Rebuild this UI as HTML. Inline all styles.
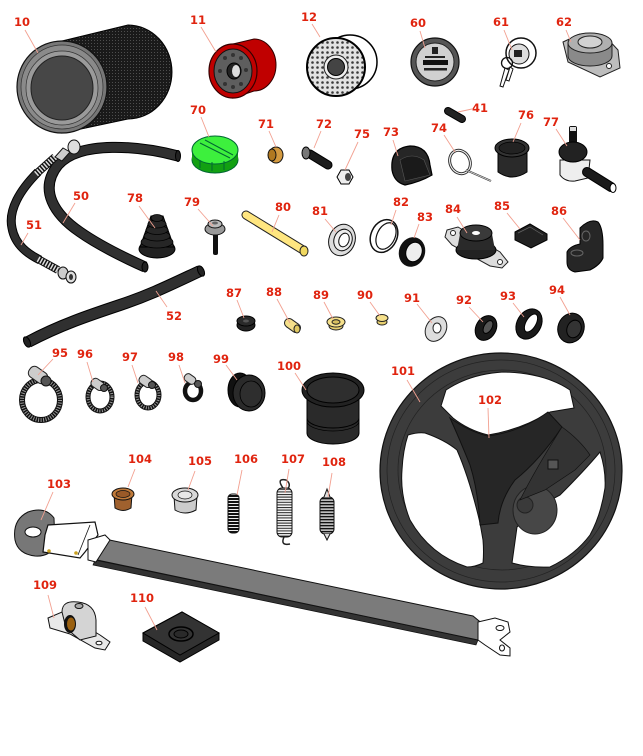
<!DOCTYPE html>
<html><head><meta charset="utf-8"><style>
html,body{margin:0;padding:0;background:#fff;}
svg{display:block}
.l{font-family:"DejaVu Sans","Liberation Sans",sans-serif;font-weight:bold;font-size:11.5px;fill:#e0240f;text-anchor:middle}
.ld{stroke:#f2a090;stroke-width:0.9;fill:none}
</style></head><body>
<svg width="643" height="756" viewBox="0 0 643 756" xmlns="http://www.w3.org/2000/svg">
<defs>
<pattern id="mesh" width="3" height="3" patternUnits="userSpaceOnUse"><rect width="3" height="3" fill="#1a1a1a"/><rect x="1" y="1" width="1" height="1" fill="#4e4e4e"/></pattern>
<pattern id="dots" width="5" height="5" patternUnits="userSpaceOnUse"><rect width="5" height="5" fill="#e2e2e2"/><circle cx="2.5" cy="2.5" r="1.3" fill="#3a3a3a"/></pattern>
<pattern id="sprB" width="4" height="3" patternUnits="userSpaceOnUse"><rect width="4" height="3" fill="#eee"/><rect y="0" width="4" height="2" fill="#111"/></pattern>
<pattern id="sprW" width="4" height="2.6" patternUnits="userSpaceOnUse"><rect width="4" height="2.6" fill="#f4f4f4"/><rect y="0" width="4" height="1" fill="#222"/></pattern>
<pattern id="sprG" width="4" height="3" patternUnits="userSpaceOnUse"><rect width="4" height="3" fill="#bbb"/><rect y="0" width="4" height="1.3" fill="#111"/></pattern>
</defs>

<!-- 10 air filter -->
<path d="M62,41 L128,25 A44,47 0 0 1 128,119 L62,133 Z" fill="url(#mesh)" stroke="#000" stroke-width="1"/>
<ellipse cx="62" cy="87" rx="45" ry="46" fill="#777" stroke="#111" stroke-width="1.2"/>
<ellipse cx="62" cy="87" rx="41" ry="42" fill="#8a8a8a" stroke="#333" stroke-width="0.7"/>
<ellipse cx="62" cy="88" rx="36" ry="37" fill="#9a9a9a" stroke="#333" stroke-width="0.7"/>
<ellipse cx="62" cy="88" rx="31" ry="32" fill="#474747" stroke="#222" stroke-width="1"/>

<!-- 11 oil filter -->
<path d="M233,44 L254,39 A22,26 0 0 1 254,91 L233,98 Z" fill="#c00000" stroke="#300" stroke-width="1"/>
<ellipse cx="233" cy="71" rx="24" ry="27" fill="#c00000" stroke="#300" stroke-width="1.2"/>
<ellipse cx="233" cy="71" rx="19" ry="22" fill="#5e5e5e" stroke="#111"/>
<g fill="#333"><circle cx="225" cy="58" r="2"/><circle cx="241" cy="58" r="2"/><circle cx="246" cy="70" r="2"/><circle cx="241" cy="84" r="2"/><circle cx="225" cy="84" r="2"/><circle cx="220" cy="71" r="2"/><circle cx="233" cy="55" r="2"/><circle cx="233" cy="87" r="2"/></g>
<ellipse cx="234" cy="71" rx="7" ry="8" fill="#222" stroke="#000"/>
<ellipse cx="236" cy="71" rx="4" ry="6" fill="#ddd"/>

<!-- 12 fuel filter -->
<circle cx="350" cy="62" r="27" fill="#fff" stroke="#000" stroke-width="1.5"/>
<circle cx="336" cy="67" r="29" fill="url(#dots)" stroke="#000" stroke-width="2"/>
<circle cx="336" cy="67" r="12" fill="#eee" stroke="#222"/>
<circle cx="336" cy="67" r="8.5" fill="#444" stroke="#000"/>

<!-- 60 gauge -->
<circle cx="435" cy="62" r="24" fill="#555" stroke="#111" stroke-width="1.2"/>
<circle cx="435" cy="62" r="19" fill="#d0d0d0" stroke="#222"/>
<rect x="432" y="47" width="6" height="7" fill="#222"/>
<rect x="425" y="56" width="20" height="2" fill="#222"/>
<rect x="423" y="60" width="25" height="5" fill="#111"/>
<rect x="424" y="68" width="23" height="2.5" fill="#222"/>

<!-- 61 key switch -->
<circle cx="521" cy="53" r="15" fill="#fff" stroke="#111" stroke-width="1.5"/>
<circle cx="519" cy="54" r="10" fill="#ddd" stroke="#111"/>
<rect x="514" y="50" width="8" height="7" fill="#222"/>
<circle cx="507" cy="63" r="5.5" fill="none" stroke="#111" stroke-width="1.3"/>
<path d="M505,68 L500,86 L503,87 L509,70 Z M510,67 L506,80 L509,81 L513,69 Z" fill="#fff" stroke="#111"/>

<!-- 62 flange -->
<path d="M563,42 L580,34 L605,36 L618,50 L620,68 L600,77 L568,62 Z" fill="#bdbdbd" stroke="#222"/>
<path d="M568,43 L568,56 A22,10 0 0 0 612,56 L612,43 Z" fill="#8a8a8a" stroke="#222"/>
<ellipse cx="590" cy="43" rx="22" ry="10" fill="#b0b0b0" stroke="#222"/>
<ellipse cx="590" cy="42" rx="12" ry="6" fill="#d2d2d2" stroke="#222"/>
<circle cx="609" cy="66" r="2.5" fill="#fff" stroke="#222"/>

<!-- 41 -->
<line x1="448" y1="111" x2="462" y2="119" stroke="#000" stroke-width="8" stroke-linecap="round"/>
<line x1="448" y1="111" x2="462" y2="119" stroke="#222" stroke-width="6" stroke-linecap="round"/>

<!-- 70 green cap -->
<ellipse cx="215" cy="160" rx="23" ry="13" fill="#12a012" stroke="#063" stroke-width="1"/>
<rect x="192" y="150" width="46" height="10" fill="#12a012"/>
<ellipse cx="215" cy="150" rx="23" ry="14" fill="#3df03d" stroke="#063" stroke-width="1"/>
<path d="M200,143 L230,158 M205,140 L233,155" stroke="#063" stroke-width="1"/>
<g stroke="#063" stroke-width="1"><line x1="200" y1="160" x2="200" y2="168"/><line x1="212" y1="162" x2="212" y2="171"/><line x1="224" y1="161" x2="224" y2="170"/></g>

<!-- 71 -->
<ellipse cx="276" cy="155" rx="7" ry="8" fill="#d49a40" stroke="#111"/>
<ellipse cx="272" cy="155" rx="4" ry="6" fill="#b07820" stroke="#111"/>

<!-- 72 bolt -->
<line x1="310" y1="154" x2="328" y2="165" stroke="#000" stroke-width="9" stroke-linecap="round"/>
<line x1="310" y1="154" x2="328" y2="165" stroke="#1c1c1c" stroke-width="7" stroke-linecap="round"/>
<ellipse cx="306" cy="153" rx="4" ry="6" fill="#777" stroke="#000"/>

<!-- 75 nut -->
<polygon points="353,177 349,170 341,170 337,177 341,184 349,184" fill="#eee" stroke="#000"/>
<ellipse cx="348" cy="177" rx="3" ry="4" fill="#444"/>

<!-- 73 boot -->
<path d="M392,170 Q390,148 410,146 Q428,146 430,165 L432,175 Q420,182 405,185 Q394,182 392,170 Z" fill="#262626" stroke="#000" stroke-width="1.2"/>
<path d="M400,160 Q412,152 424,160 L430,175 L405,181 Z" fill="#1a1a1a" stroke="#555" stroke-width="0.6"/>

<!-- 74 ring pin -->
<ellipse cx="460" cy="162" rx="10" ry="12" transform="rotate(-25 460 162)" fill="none" stroke="#333" stroke-width="3"/>
<ellipse cx="460" cy="162" rx="10" ry="12" transform="rotate(-25 460 162)" fill="none" stroke="#fff" stroke-width="1"/>
<line x1="466" y1="170" x2="491" y2="181" stroke="#333" stroke-width="2"/>
<line x1="466" y1="170" x2="491" y2="181" stroke="#ddd" stroke-width="0.7"/>

<!-- 76 cup -->
<path d="M498,148 L498,172 Q512,182 527,172 L527,148 Z" fill="#2a2a2a" stroke="#000"/>
<ellipse cx="512" cy="148" rx="17" ry="9" fill="#333" stroke="#000"/>
<ellipse cx="512" cy="148" rx="13" ry="6" fill="#222" stroke="#000" stroke-width="0.7"/>

<!-- 77 tie rod end -->
<rect x="569" y="126" width="8" height="18" rx="2" fill="#111"/>
<rect x="570" y="127" width="6" height="4" fill="#ddd"/>
<path d="M560,160 L560,175 Q565,182 575,181 L588,178 L590,160 Z" fill="#eee" stroke="#111"/>
<ellipse cx="573" cy="152" rx="14" ry="10" fill="#222" stroke="#000"/>
<line x1="587" y1="172" x2="611" y2="187" stroke="#000" stroke-width="10" stroke-linecap="round"/>
<line x1="587" y1="172" x2="611" y2="187" stroke="#1a1a1a" stroke-width="8" stroke-linecap="round"/>
<ellipse cx="613" cy="188" rx="3" ry="4.5" fill="#fff" stroke="#000"/>

<!-- 50 hose -->
<path d="M178,156 C140,146 80,140 58,165 C38,190 55,215 80,232 C100,246 125,258 145,267" fill="none" stroke="#000" stroke-width="11"/>
<path d="M178,156 C140,146 80,140 58,165 C38,190 55,215 80,232 C100,246 125,258 145,267" fill="none" stroke="#303030" stroke-width="9"/>
<ellipse cx="178" cy="156" rx="2.5" ry="5.5" fill="#222" stroke="#000"/>
<ellipse cx="145" cy="267" rx="3" ry="5" fill="#222" stroke="#000"/>

<!-- 51 hose -->
<path d="M38,172 C20,190 8,210 12,228 C15,245 28,254 40,260" fill="none" stroke="#000" stroke-width="9"/>
<path d="M38,172 C20,190 8,210 12,228 C15,245 28,254 40,260" fill="none" stroke="#2e2e2e" stroke-width="7"/>
<line x1="36" y1="174" x2="55" y2="157" stroke="#111" stroke-width="8"/>
<line x1="36" y1="174" x2="55" y2="157" stroke="#ddd" stroke-width="6" stroke-dasharray="1.5 1.5"/>
<path d="M55,157 L63,148 L70,152 L62,161 Z" fill="#ccc" stroke="#111"/>
<ellipse cx="74" cy="147" rx="6" ry="7" fill="#ddd" stroke="#111"/>
<line x1="38" y1="259" x2="58" y2="270" stroke="#111" stroke-width="8"/>
<line x1="38" y1="259" x2="58" y2="270" stroke="#ddd" stroke-width="6" stroke-dasharray="1.5 1.5"/>
<ellipse cx="63" cy="273" rx="5" ry="6" fill="#ccc" stroke="#111"/>
<ellipse cx="71" cy="277" rx="5" ry="6" fill="#ddd" stroke="#111"/>
<ellipse cx="71" cy="277" rx="2" ry="3" fill="#333"/>

<!-- 52 hose -->
<path d="M200,271 C170,285 150,295 120,305 C90,315 60,325 28,342" fill="none" stroke="#000" stroke-width="12"/>
<path d="M200,271 C170,285 150,295 120,305 C90,315 60,325 28,342" fill="none" stroke="#303030" stroke-width="10"/>
<ellipse cx="201" cy="271" rx="3" ry="5.5" transform="rotate(-25 201 271)" fill="#222" stroke="#000"/>
<ellipse cx="27" cy="342" rx="3" ry="5.5" transform="rotate(-25 27 342)" fill="#222" stroke="#000"/>

<!-- 78 bellows -->
<ellipse cx="157" cy="249" rx="18" ry="9" fill="#222" stroke="#000"/>
<path d="M151,216 L163,216 L174,247 L140,247 Z" fill="#222" stroke="#000"/>
<g fill="#262626" stroke="#000" stroke-width="0.8">
<ellipse cx="157" cy="242" rx="16" ry="6"/><ellipse cx="157" cy="236" rx="13" ry="5"/><ellipse cx="157" cy="230" rx="11" ry="4.5"/><ellipse cx="157" cy="224" rx="9" ry="4"/><ellipse cx="157" cy="218" rx="6" ry="3.5"/></g>

<!-- 79 bolt -->
<rect x="213" y="232" width="5" height="23" rx="2" fill="#111"/>
<ellipse cx="215" cy="229" rx="10" ry="6" fill="#999" stroke="#111"/>
<ellipse cx="215" cy="224" rx="7" ry="4" fill="#bbb" stroke="#111"/>
<ellipse cx="215" cy="223" rx="3" ry="1.5" fill="#666"/>

<!-- 80 rod -->
<line x1="246" y1="215" x2="303" y2="250" stroke="#222" stroke-width="9" stroke-linecap="round"/>
<line x1="246" y1="215" x2="303" y2="250" stroke="#ffe680" stroke-width="7" stroke-linecap="round"/>
<ellipse cx="304" cy="251" rx="4" ry="5" fill="#f0d860" stroke="#222"/>

<!-- 81 bearing -->
<ellipse cx="342" cy="240" rx="13" ry="16" transform="rotate(20 342 240)" fill="#ddd" stroke="#111"/>
<ellipse cx="343" cy="240" rx="9" ry="11" transform="rotate(20 343 240)" fill="#eee" stroke="#111"/>
<ellipse cx="344" cy="240" rx="5" ry="7" transform="rotate(20 344 240)" fill="#fff" stroke="#111"/>

<!-- 82 ring -->
<ellipse cx="384" cy="236" rx="13" ry="17" transform="rotate(25 384 236)" fill="#fff" stroke="#111" stroke-width="1.5"/>
<ellipse cx="386" cy="236" rx="9" ry="14" transform="rotate(25 386 236)" fill="#fff" stroke="#111" stroke-width="1.2"/>

<!-- 83 taper bearing -->
<ellipse cx="412" cy="252" rx="13" ry="15" transform="rotate(20 412 252)" fill="#111"/>
<ellipse cx="414" cy="252" rx="8" ry="10" transform="rotate(20 414 252)" fill="#eee" stroke="#000"/>

<!-- 84 mount -->
<path d="M447,230 L458,227 L500,252 L508,262 L502,268 L490,266 L452,245 L445,237 Z" fill="#ddd" stroke="#222"/>
<circle cx="453" cy="233" r="2.5" fill="#fff" stroke="#222"/>
<circle cx="500" cy="262" r="2.5" fill="#fff" stroke="#222"/>
<ellipse cx="476" cy="250" rx="20" ry="9" fill="#222" stroke="#000"/>
<path d="M460,234 L457,250 L495,250 L492,234 Z" fill="#2a2a2a"/>
<ellipse cx="476" cy="233" rx="16" ry="8" fill="#3a3a3a" stroke="#000"/>
<ellipse cx="476" cy="233" rx="4" ry="2" fill="#fff"/>

<!-- 85 block -->
<path d="M515,232 L530,224 L547,234 L547,240 L531,248 L515,240 Z" fill="#222" stroke="#000"/>
<path d="M518,233 L530,227 L543,235" stroke="#666" stroke-width="0.7" fill="none"/>

<!-- 86 bracket -->
<path d="M580,228 Q590,218 598,222 Q603,228 603,245 L603,258 Q600,265 590,270 L575,272 Q567,270 567,262 L567,252 Q570,246 580,244 Z" fill="#262626" stroke="#000"/>
<ellipse cx="586" cy="236" rx="4" ry="5" fill="none" stroke="#666"/>
<ellipse cx="577" cy="253" rx="6" ry="3" fill="none" stroke="#666"/>

<!-- 87 -->
<ellipse cx="246" cy="325" rx="9" ry="6" fill="#222" stroke="#000"/>
<ellipse cx="246" cy="321" rx="9" ry="5" fill="#2a2a2a" stroke="#000"/>
<ellipse cx="246" cy="321" rx="3" ry="1.5" fill="#555"/>

<!-- 88 -->
<line x1="289" y1="323" x2="296" y2="328" stroke="#222" stroke-width="10" stroke-linecap="round"/>
<line x1="289" y1="323" x2="296" y2="328" stroke="#f5e08a" stroke-width="8" stroke-linecap="round"/>
<ellipse cx="297" cy="329" rx="3" ry="4" fill="#e0c860" stroke="#222"/>

<!-- 89 -->
<ellipse cx="336" cy="326" rx="7" ry="4" fill="#e8d070" stroke="#222"/>
<ellipse cx="336" cy="322" rx="9" ry="5" fill="#f5e08a" stroke="#222"/>
<ellipse cx="336" cy="322" rx="4" ry="2.2" fill="#d8c060" stroke="#222"/>

<!-- 90 -->
<ellipse cx="382" cy="322" rx="5" ry="3" fill="#e8d070" stroke="#222"/>
<ellipse cx="382" cy="318" rx="6" ry="3.5" fill="#f5e08a" stroke="#222"/>

<!-- 91 washer -->
<ellipse cx="436" cy="329" rx="10" ry="13" transform="rotate(30 436 329)" fill="#ddd" stroke="#222"/>
<ellipse cx="437" cy="328" rx="4" ry="5" fill="#fff" stroke="#222"/>

<!-- 92-94 seals -->
<ellipse cx="486" cy="328" rx="10" ry="13" transform="rotate(30 486 328)" fill="#1a1a1a" stroke="#000"/>
<ellipse cx="488" cy="327" rx="4" ry="7" transform="rotate(30 488 327)" fill="#555" stroke="#000"/>
<ellipse cx="529" cy="324" rx="12" ry="16" transform="rotate(30 529 324)" fill="#1a1a1a" stroke="#000"/>
<ellipse cx="531" cy="323" rx="5" ry="10" transform="rotate(30 531 323)" fill="#fff" stroke="#000"/>
<ellipse cx="571" cy="328" rx="13" ry="15" transform="rotate(20 571 328)" fill="#222" stroke="#000"/>
<ellipse cx="574" cy="329" rx="7" ry="9" transform="rotate(20 574 329)" fill="#333" stroke="#000"/>

<!-- clamps -->
<g fill="none">
<ellipse cx="41" cy="400" rx="19" ry="20" stroke="#111" stroke-width="6"/>
<ellipse cx="41" cy="400" rx="19" ry="20" stroke="#999" stroke-width="4" stroke-dasharray="1 1.5"/>
<ellipse cx="100" cy="397" rx="12" ry="14" stroke="#111" stroke-width="5"/>
<ellipse cx="100" cy="397" rx="12" ry="14" stroke="#999" stroke-width="3" stroke-dasharray="1 1.5"/>
<ellipse cx="148" cy="395" rx="11" ry="13" stroke="#111" stroke-width="5"/>
<ellipse cx="148" cy="395" rx="11" ry="13" stroke="#999" stroke-width="3" stroke-dasharray="1 1.5"/>
<ellipse cx="193" cy="391" rx="8" ry="9" stroke="#111" stroke-width="4.5"/>
</g>
<rect x="28" y="369" width="20" height="12" rx="5" transform="rotate(35 38 375)" fill="#ccc" stroke="#222"/>
<circle cx="46" cy="381" r="5" fill="#555" stroke="#111"/>
<rect x="91" y="380" width="14" height="9" rx="4" transform="rotate(35 98 384)" fill="#ccc" stroke="#222"/>
<circle cx="104" cy="388" r="3.5" fill="#555" stroke="#111"/>
<rect x="139" y="377" width="14" height="9" rx="4" transform="rotate(35 146 381)" fill="#ccc" stroke="#222"/>
<circle cx="152" cy="385" r="3.5" fill="#555" stroke="#111"/>
<rect x="184" y="375" width="12" height="8" rx="3.5" transform="rotate(35 190 379)" fill="#ccc" stroke="#222"/>
<circle cx="198" cy="384" r="3.5" fill="#555" stroke="#111"/>

<!-- 99 cap -->
<ellipse cx="240" cy="390" rx="12" ry="17" fill="#111" stroke="#000"/>
<ellipse cx="249" cy="393" rx="16" ry="18" fill="#2a2a2a" stroke="#000"/>
<ellipse cx="251" cy="394" rx="11" ry="13" fill="#2e2e2e" stroke="#000" stroke-width="0.8"/>

<!-- 100 cup -->
<path d="M307,390 L307,433 A26,11 0 0 0 359,433 L359,390 Z" fill="#2a2a2a" stroke="#000"/>
<path d="M307,418 A26,10 0 0 0 359,418" fill="none" stroke="#000"/>
<path d="M307,421 A26,10 0 0 0 359,421" fill="none" stroke="#000" stroke-width="0.7"/>
<ellipse cx="333" cy="390" rx="31" ry="17" fill="#222" stroke="#000"/>
<ellipse cx="333" cy="390" rx="26" ry="13" fill="#2e2e2e" stroke="#000"/>

<!-- 101 steering wheel -->
<ellipse cx="501" cy="471" rx="121" ry="118" fill="#3c3c3c" stroke="#111" stroke-width="1.2"/>
<ellipse cx="501" cy="471" rx="114" ry="111" fill="none" stroke="#222" stroke-width="0.7"/>
<ellipse cx="502" cy="470" rx="104" ry="100" fill="none" stroke="#222" stroke-width="0.7"/>
<path d="M441,406 L446,390 Q470,374 503,372 Q545,373 570,390 L574,408 L550,412 Q520,430 488,435 Q468,430 453,418 Z" fill="#fff" stroke="#111"/>
<path d="M408,435 Q418,432 425,433 Q445,440 457,450 Q470,480 480,523 L483,540 Q484,552 483,563 Q475,567 467,567 Q430,555 410,520 Q400,495 402,470 Q403,450 408,435 Z" fill="#fff" stroke="#111"/>
<path d="M512,563 L517,527 Q540,505 560,495 Q585,470 600,452 Q606,470 605,488 Q601,515 590,535 Q575,555 550,567 Q530,568 512,563 Z" fill="#fff" stroke="#111"/>
<ellipse cx="535" cy="510" rx="22" ry="24" fill="#474747" stroke="#222"/>
<circle cx="525" cy="505" r="8" fill="#3a3a3a" stroke="#222"/>
<path d="M450,418 Q470,432 488,436 Q520,432 548,412 L562,427 Q540,460 515,480 Q500,500 498,523 L480,525 Q478,490 470,465 Q460,440 450,418 Z" fill="#262626" stroke="#111"/>
<path d="M562,427 Q580,440 590,455 L575,470 Q560,480 545,490 L520,500 Q535,470 562,427 Z" fill="#333" stroke="#111" stroke-width="0.7"/>
<rect x="548" y="460" width="10" height="9" fill="#555" stroke="#111"/>

<!-- 103 strap -->
<polygon points="95,560 478,640 476,645 93,565" fill="#333" stroke="#111" stroke-width="0.7"/>
<polygon points="100,538 473,616 484,625 478,640 97,560" fill="#7b7b7b" stroke="#111"/>
<path d="M478,622 L495,618 L508,622 L510,632 L500,640 L510,648 L510,656 L500,655 L485,645 L478,640 Z" fill="#fff" stroke="#111"/>
<ellipse cx="500" cy="628" rx="4" ry="2.5" fill="#fff" stroke="#111"/>
<ellipse cx="502" cy="648" rx="2.5" ry="3" fill="#fff" stroke="#111"/>
<path d="M15,540 Q12,520 28,512 Q45,506 54,518 L55,545 Q50,557 35,556 Q18,554 15,540 Z" fill="#777" stroke="#111"/>
<ellipse cx="33" cy="532" rx="8" ry="5" fill="#fff" stroke="#111"/>
<path d="M48,525 L95,522 L98,535 L85,552 L80,558 L43,552 L45,535 Z" fill="#fff" stroke="#111" stroke-width="1.2"/>
<line x1="90" y1="525" x2="78" y2="555" stroke="#111" stroke-width="0.8"/>
<circle cx="49" cy="551" r="1.8" fill="#c9a020"/>
<circle cx="76" cy="553" r="1.8" fill="#c9a020"/>
<path d="M88,540 L105,535 L110,540 L96,562 L88,560 Z" fill="#fff" stroke="#111"/>

<!-- 104 -->
<path d="M114,494 L115,508 Q123,513 131,508 L132,494 Z" fill="#a0612e" stroke="#111"/>
<ellipse cx="123" cy="494" rx="11" ry="6" fill="#c07a3a" stroke="#111"/>
<ellipse cx="123" cy="494" rx="7" ry="3.5" fill="#9a5a28" stroke="#111" stroke-width="0.7"/>

<!-- 105 -->
<path d="M174,496 L175,510 Q185,516 196,510 L197,496 Z" fill="#ccc" stroke="#111"/>
<ellipse cx="185" cy="495" rx="13" ry="7" fill="#d8d8d8" stroke="#111"/>
<ellipse cx="185" cy="495" rx="7" ry="4" fill="#e8e8e8" stroke="#111" stroke-width="0.7"/>

<!-- springs -->
<rect x="228" y="494" width="11" height="39" rx="4" fill="url(#sprB)" stroke="#111"/>
<path d="M283,488 Q276,478 286,480 Q292,484 287,490" fill="none" stroke="#222" stroke-width="1.5"/>
<rect x="277" y="488" width="15" height="49" rx="5" fill="url(#sprW)" stroke="#111"/>
<path d="M284,537 Q280,546 290,544" fill="none" stroke="#222" stroke-width="1.5"/>
<rect x="320" y="497" width="14" height="37" rx="5" fill="url(#sprG)" stroke="#111"/>
<path d="M324,497 L327,489 L330,497 M324,534 L327,540 L330,534" fill="#ddd" stroke="#111"/>

<!-- 109 pillow block -->
<path d="M48,618 L62,612 L75,620 L100,635 L110,642 L105,650 L95,648 L70,634 L50,628 Z" fill="#e8e8e8" stroke="#111"/>
<path d="M62,612 Q62,600 78,602 Q95,604 96,620 L96,636 L80,640 L66,628 Z" fill="#d4d4d4" stroke="#111"/>
<ellipse cx="70" cy="624" rx="6" ry="9" fill="#111"/>
<ellipse cx="71" cy="624" rx="4" ry="6.5" fill="#9a6010"/>
<ellipse cx="79" cy="606" rx="4" ry="2.5" fill="#aaa" stroke="#111"/>
<ellipse cx="99" cy="643" rx="3" ry="1.8" fill="#fff" stroke="#111"/>

<!-- 110 pad -->
<polygon points="143,633 182,612 219,633 219,640 180,662 143,641" fill="#262626" stroke="#000"/>
<polygon points="143,633 182,612 219,633 180,655" fill="#333" stroke="#000"/>
<ellipse cx="181" cy="634" rx="12" ry="7" fill="none" stroke="#000" stroke-width="1.5"/>
<ellipse cx="181" cy="634" rx="7" ry="4" fill="#2a2a2a" stroke="#000"/>

<!-- leader lines -->
<g class="ld">
<line x1="25" y1="30" x2="38" y2="53"/><line x1="201" y1="27" x2="216" y2="52"/><line x1="312" y1="24" x2="320" y2="37"/>
<line x1="420" y1="31" x2="425" y2="48"/><line x1="504" y1="30" x2="512" y2="50"/><line x1="566" y1="30" x2="571" y2="42"/>
<line x1="472" y1="109" x2="458" y2="112"/><line x1="201" y1="117" x2="209" y2="137"/><line x1="269" y1="131" x2="276" y2="147"/>
<line x1="321" y1="131" x2="314" y2="148"/><line x1="358" y1="142" x2="345" y2="170"/><line x1="393" y1="140" x2="398" y2="156"/>
<line x1="444" y1="135" x2="455" y2="152"/><line x1="521" y1="123" x2="513" y2="142"/><line x1="556" y1="129" x2="567" y2="146"/>
<line x1="75" y1="203" x2="63" y2="223"/><line x1="28" y1="233" x2="21" y2="245"/><line x1="139" y1="206" x2="155" y2="228"/>
<line x1="198" y1="209" x2="213" y2="226"/><line x1="279" y1="215" x2="272" y2="232"/><line x1="325" y1="219" x2="336" y2="232"/>
<line x1="396" y1="210" x2="391" y2="225"/><line x1="419" y1="224" x2="414" y2="238"/><line x1="457" y1="217" x2="467" y2="233"/>
<line x1="507" y1="213" x2="520" y2="229"/><line x1="563" y1="218" x2="580" y2="240"/><line x1="167" y1="307" x2="156" y2="291"/>
<line x1="237" y1="300" x2="244" y2="318"/><line x1="277" y1="299" x2="290" y2="323"/><line x1="324" y1="302" x2="333" y2="319"/>
<line x1="370" y1="302" x2="380" y2="316"/><line x1="417" y1="304" x2="432" y2="323"/><line x1="469" y1="307" x2="483" y2="322"/>
<line x1="513" y1="303" x2="524" y2="317"/><line x1="560" y1="297" x2="570" y2="315"/>
<line x1="53" y1="359" x2="38" y2="375"/><line x1="87" y1="362" x2="93" y2="382"/><line x1="132" y1="365" x2="138" y2="383"/>
<line x1="179" y1="365" x2="185" y2="383"/><line x1="226" y1="365" x2="237" y2="380"/><line x1="295" y1="373" x2="306" y2="390"/>
<line x1="407" y1="380" x2="420" y2="402"/><line x1="488" y1="408" x2="489" y2="438"/>
<line x1="53" y1="492" x2="41" y2="520"/><line x1="135" y1="469" x2="128" y2="487"/><line x1="195" y1="471" x2="188" y2="490"/>
<line x1="242" y1="470" x2="237" y2="495"/><line x1="289" y1="469" x2="285" y2="493"/><line x1="332" y1="473" x2="328" y2="497"/>
<line x1="48" y1="595" x2="54" y2="618"/><line x1="145" y1="607" x2="157" y2="630"/>
</g>

<!-- labels -->
<g class="l">
<text x="22" y="26">10</text><text x="198" y="24">11</text><text x="309" y="21">12</text>
<text x="418" y="27">60</text><text x="501" y="26">61</text><text x="564" y="26">62</text>
<text x="480" y="112">41</text><text x="198" y="114">70</text><text x="266" y="128">71</text>
<text x="324" y="128">72</text><text x="362" y="138">75</text><text x="391" y="136">73</text>
<text x="439" y="132">74</text><text x="526" y="119">76</text><text x="551" y="126">77</text>
<text x="81" y="200">50</text><text x="34" y="229">51</text><text x="135" y="202">78</text>
<text x="192" y="206">79</text><text x="283" y="211">80</text><text x="320" y="215">81</text>
<text x="401" y="206">82</text><text x="425" y="221">83</text><text x="453" y="213">84</text>
<text x="502" y="210">85</text><text x="559" y="215">86</text><text x="174" y="320">52</text>
<text x="234" y="297">87</text><text x="274" y="296">88</text><text x="321" y="299">89</text>
<text x="365" y="299">90</text><text x="412" y="302">91</text><text x="464" y="304">92</text>
<text x="508" y="300">93</text><text x="557" y="294">94</text>
<text x="60" y="357">95</text><text x="85" y="358">96</text><text x="130" y="361">97</text>
<text x="176" y="361">98</text><text x="221" y="363">99</text><text x="289" y="370">100</text>
<text x="403" y="375">101</text><text x="490" y="404">102</text>
<text x="59" y="488">103</text><text x="140" y="463">104</text><text x="200" y="465">105</text>
<text x="246" y="463">106</text><text x="293" y="463">107</text><text x="334" y="466">108</text>
<text x="45" y="589">109</text><text x="142" y="602">110</text>
</g>
</svg>
</body></html>
